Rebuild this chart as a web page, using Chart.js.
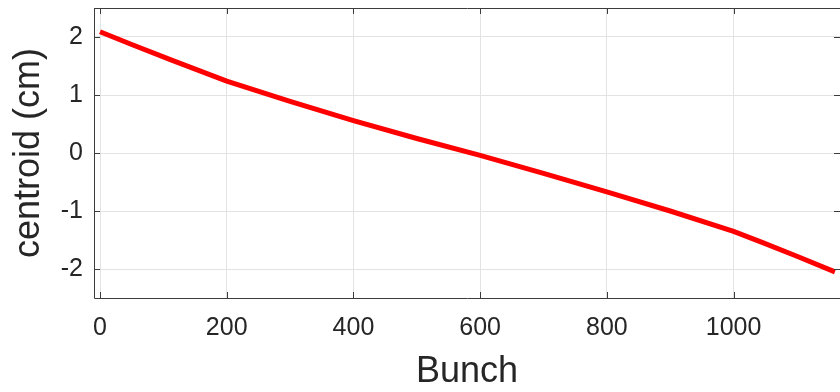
<!DOCTYPE html>
<html>
<head>
<meta charset="utf-8">
<script src="https://cdn.jsdelivr.net/npm/chart.js@4"></script>
<style>
  html, body { margin: 0; padding: 0; background: #fff; }
  #wrap { width: 840px; height: 392px; }
</style>
</head>
<body>
<div id="wrap"><canvas id="centroidChart" width="840" height="392"></canvas></div>
<script>
// data
const bunch = [0, 50, 113, 200, 300, 400, 500, 600, 700, 800, 900, 1000, 1045, 1100, 1160];
const centroid = [2.09, 1.87, 1.60, 1.24, 0.89, 0.56, 0.25, -0.04, -0.35, -0.67, -1.00, -1.35, -1.54, -1.78, -2.05];
const xTicks = [0, 200, 400, 600, 800, 1000];
const yTicks = [-2, -1, 0, 1, 2];

const axisColor = '#3c3c3c';
const textColor = '#262626';

// matlab style box with inward ticks
const boxPlugin = {
    id: 'box',
    afterDatasetsDraw(chart) {
        const { ctx, chartArea: a, scales } = chart;
        ctx.save();
        ctx.strokeStyle = axisColor;
        ctx.lineWidth = 1;
        ctx.beginPath();
        ctx.moveTo(a.left + 0.5, a.top + 0.5);
        ctx.lineTo(a.right + 0.5, a.top + 0.5);
        ctx.moveTo(a.left + 0.5, a.top);
        ctx.lineTo(a.left + 0.5, a.bottom + 0.5);
        ctx.lineTo(a.right + 0.5, a.bottom + 0.5);
        const len = 6;
        xTicks.forEach(v => {
            const x = Math.round(scales.x.getPixelForValue(v)) + 0.5;
            ctx.moveTo(x, a.bottom);
            ctx.lineTo(x, a.bottom - len);
            ctx.moveTo(x, a.top);
            ctx.lineTo(x, a.top + len);
        });
        yTicks.forEach(v => {
            const y = Math.round(scales.y.getPixelForValue(v)) + 0.5;
            ctx.moveTo(a.left, y);
            ctx.lineTo(a.left + len, y);
            ctx.moveTo(a.right, y);
            ctx.lineTo(a.right - len, y);
        });
        ctx.stroke();
        ctx.restore();
    }
};

const noPad = s => {
    s.paddingTop = 0;
    s.paddingBottom = 0;
    s.paddingLeft = 0;
    s.paddingRight = 0;
};

const ctx = document.getElementById('centroidChart').getContext('2d');
new Chart(ctx, {
    type: 'line',
    data: {
        datasets: [{
            data: bunch.map((b, i) => ({ x: b, y: centroid[i] })),
            borderColor: '#ff0000',
            borderWidth: 5,
            pointRadius: 0,
            tension: 0,
            fill: false
        }]
    },
    options: {
        responsive: false,
        animation: false,
        layout: { padding: { top: 8, right: 0, left: 0, bottom: 0 } },
        plugins: {
            legend: { display: false },
            tooltip: { enabled: false }
        },
        scales: {
            x: {
                type: 'linear',
                min: -9.5,
                max: 1168,
                afterBuildTicks: s => { s.ticks = xTicks.map(v => ({ value: v })); },
                afterFit: s => { s.height = 94; noPad(s); },
                grid: { color: '#e3e3e3', drawTicks: false },
                border: { display: false },
                ticks: {
                    padding: 15,
                    maxRotation: 0,
                    color: textColor,
                    font: { family: 'Liberation Sans', size: 25 },
                    callback: v => String(v)
                },
                title: {
                    display: true,
                    text: 'Bunch',
                    color: textColor,
                    font: { family: 'Liberation Sans', size: 36 },
                    padding: { top: 0, bottom: -2 }
                }
            },
            y: {
                min: -2.5,
                max: 2.5,
                afterBuildTicks: s => { s.ticks = yTicks.map(v => ({ value: v })); },
                afterFit: s => { s.width = 94; noPad(s); },
                grid: { color: '#e3e3e3', drawTicks: false },
                border: { display: false },
                ticks: {
                    padding: 11,
                    color: textColor,
                    font: { family: 'Liberation Sans', size: 25 },
                    callback: v => String(v)
                },
                title: {
                    display: true,
                    text: 'centroid (cm)',
                    color: textColor,
                    font: { family: 'Liberation Sans', size: 36 },
                    padding: { top: 7, bottom: 0 }
                }
            }
        }
    },
    plugins: [boxPlugin]
});
</script>
</body>
</html>
